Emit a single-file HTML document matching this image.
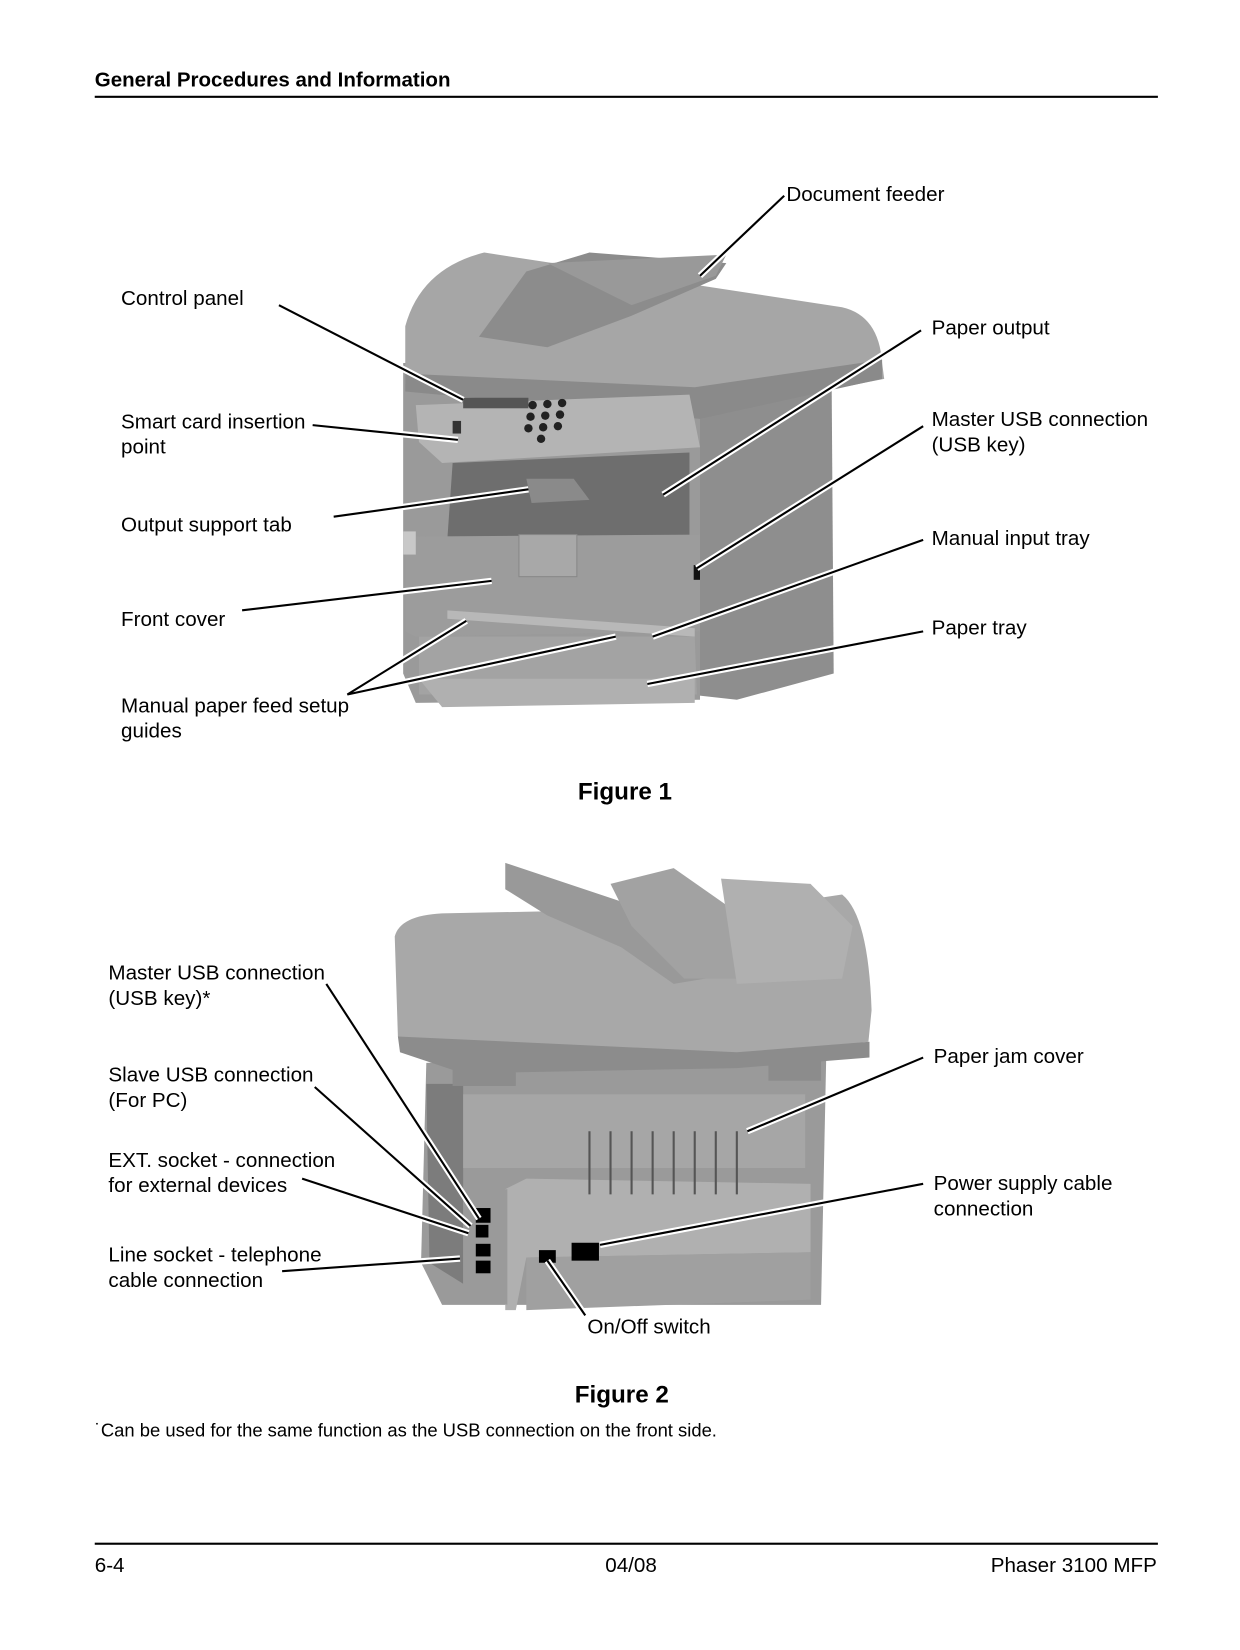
<!DOCTYPE html>
<html><head><meta charset="utf-8"><style>
html,body{margin:0;padding:0;background:#fff;width:1240px;height:1650px;overflow:hidden}
svg{display:block}
text{font-family:"Liberation Sans",Arial,sans-serif;fill:#000}
.l{font-size:19.6px}
.ln{stroke:#000;stroke-width:2;fill:none}
.h{stroke:#fff;stroke-width:6;fill:none}
</style></head><body>
<svg width="1240" height="1650" viewBox="0 0 1178 1568" preserveAspectRatio="none" xmlns="http://www.w3.org/2000/svg">
<text x="90" y="82" style="font-size:19.5px;font-weight:bold">General Procedures and Information</text>
<rect x="90" y="91" width="1010" height="2" fill="#000"/>

<g>
<path d="M655,375 L790,355 L792,640 L700,665 L655,660 Z" fill="#8e8e8e"/>
<path d="M383,345 L665,345 L665,665 L395,668 L383,640 Z" fill="#9a9a9a"/>
<path d="M385,310 Q400,255 460,240 L800,292 Q835,300 838,345 L840,360 L665,395 L385,365 Z" fill="#a6a6a6"/>
<path d="M385,355 L660,368 L838,342 L838,360 L665,398 L385,372 Z" fill="#8a8a8a"/>
<path d="M455,320 L500,258 L560,240 L690,250 L680,265 L600,300 L520,330 Z" fill="#8c8c8c"/>
<path d="M520,250 L690,242 L680,262 L600,290 Z" fill="#999"/>
<path d="M395,385 L655,375 L665,425 L420,440 L398,420 Z" fill="#b4b4b4"/>
<rect x="440" y="378" width="62" height="10" fill="#555"/>
<g fill="#222">
<circle cx="506" cy="385" r="4"/><circle cx="520" cy="384" r="4"/><circle cx="534" cy="383" r="4"/>
<circle cx="504" cy="396" r="4"/><circle cx="518" cy="395" r="4"/><circle cx="532" cy="394" r="4"/>
<circle cx="502" cy="407" r="4"/><circle cx="516" cy="406" r="4"/><circle cx="530" cy="405" r="4"/>
<circle cx="514" cy="417" r="4"/></g>
<rect x="430" y="400" width="8" height="12" fill="#333"/>
<path d="M430,440 L655,430 L655,510 L425,512 Z" fill="#6e6e6e"/>
<path d="M500,455 L545,455 L560,475 L505,478 Z" fill="#8a8a8a"/>
<path d="M385,510 L665,508 L665,600 L395,605 L385,600 Z" fill="#9c9c9c"/>
<rect x="493" y="508" width="55" height="40" fill="#a8a8a8" stroke="#888"/>
<rect x="383" y="505" width="12" height="22" fill="#c8c8c8"/>
<rect x="659" y="537" width="6" height="14" fill="#111"/>
<path d="M425,580 L660,597 L660,605 L425,588 Z" fill="#b8b8b8"/>
<path d="M398,605 L660,605 L662,660 L398,660 Z" fill="#a3a3a3"/>
<path d="M398,645 L660,645 L660,668 L420,672 Z" fill="#b0b0b0"/>
</g>

<g>
<g class="h"><path d="M665,262 L745,186"/><path d="M440,380 L265,290"/><path d="M435,418 L297,404"/><path d="M502,465 L317,491"/><path d="M467,552 L230,580"/><path d="M443,590 L330,660 L585,605"/><path d="M630,470 L875,314"/><path d="M662,540 L877,405"/><path d="M620,605 L877,513"/><path d="M615,650 L877,600"/></g>
<g class="ln"><path d="M665,262 L745,186"/><path d="M440,380 L265,290"/><path d="M435,418 L297,404"/><path d="M502,465 L317,491"/><path d="M467,552 L230,580"/><path d="M443,590 L330,660 L585,605"/><path d="M630,470 L875,314"/><path d="M662,540 L877,405"/><path d="M620,605 L877,513"/><path d="M615,650 L877,600"/></g>
</g>
<text class="l" x="747" y="191">Document feeder</text>
<text class="l" x="115" y="290">Control panel</text>
<text class="l" x="885" y="318">Paper output</text>
<text class="l" x="115" y="407">Smart card insertion</text>
<text class="l" x="115" y="431">point</text>
<text class="l" x="885" y="405">Master USB connection</text>
<text class="l" x="885" y="429">(USB key)</text>
<text class="l" x="115" y="505">Output support tab</text>
<text class="l" x="885" y="518">Manual input tray</text>
<text class="l" x="115" y="595">Front cover</text>
<text class="l" x="885" y="603">Paper tray</text>
<text class="l" x="115" y="677">Manual paper feed setup</text>
<text class="l" x="115" y="701">guides</text>
<text x="549" y="760" style="font-size:23px;font-weight:bold">Figure 1</text>

<g>
<path d="M405,1010 L785,1000 L780,1240 L420,1240 L400,1200 Z" fill="#9a9a9a"/>
<path d="M405,1030 L440,1030 L440,1220 L408,1200 Z" fill="#7c7c7c"/>
<path d="M440,1040 L765,1040 L765,1110 L440,1110 Z" fill="#a6a6a6"/>
<path d="M375,890 Q380,870 420,868 L720,862 L800,850 Q825,870 828,960 L825,990 L700,1005 L440,1010 Q390,1005 378,985 Z" fill="#a8a8a8"/>
<path d="M378,985 L700,1000 L826,990 L826,1005 L700,1015 L440,1020 L380,1000 Z" fill="#8c8c8c"/>
<path d="M480,820 L600,860 L655,900 L700,925 L640,935 L590,900 L520,870 L480,845 Z" fill="#999"/>
<path d="M580,840 L640,825 L690,860 L700,930 L650,930 L600,880 Z" fill="#a2a2a2"/>
<path d="M685,835 L770,840 L810,880 L800,930 L700,935 Z" fill="#b0b0b0"/>
<rect x="430" y="1010" width="60" height="22" fill="#8c8c8c"/>
<rect x="730" y="1005" width="50" height="22" fill="#8c8c8c"/>
<path d="M480,1130 L500,1120 L770,1125 L770,1190 L500,1195 L490,1245 L480,1245 Z" fill="#b0b0b0"/>
<path d="M500,1195 L770,1190 L770,1235 L500,1245 Z" fill="#a0a0a0"/>
<path d="M440,1135 L482,1130 L482,1240 L440,1225 Z" fill="#9a9a9a"/>
<rect x="452" y="1148" width="14" height="14" fill="#000"/>
<rect x="452" y="1164" width="12" height="12" fill="#000"/>
<rect x="452" y="1182" width="14" height="12" fill="#000"/>
<rect x="452" y="1198" width="14" height="12" fill="#000"/>
<rect x="512" y="1188" width="16" height="12" fill="#000"/>
<rect x="543" y="1181" width="26" height="17" fill="#000"/>
<g stroke="#555" stroke-width="2"><path d="M560,1075 v60M580,1075 v60M600,1075 v60M620,1075 v60M640,1075 v60M660,1075 v60M680,1075 v60M700,1075 v60"/></g>
</g>
<g>
<g class="h"><path d="M455,1158 L310,935"/><path d="M447,1165 L299,1033"/><path d="M445,1172 L287,1120"/><path d="M437,1196 L268,1208"/><path d="M710,1075 L877,1005"/><path d="M570,1183 L877,1125"/><path d="M520,1198 L556,1250"/></g>
<g class="ln"><path d="M455,1158 L310,935"/><path d="M447,1165 L299,1033"/><path d="M445,1172 L287,1120"/><path d="M437,1196 L268,1208"/><path d="M710,1075 L877,1005"/><path d="M570,1183 L877,1125"/><path d="M520,1198 L556,1250"/></g>
</g>
<text class="l" x="103" y="931">Master USB connection</text>
<text class="l" x="103" y="955">(USB key)*</text>
<text class="l" x="887" y="1010">Paper jam cover</text>
<text class="l" x="103" y="1028">Slave USB connection</text>
<text class="l" x="103" y="1052">(For PC)</text>
<text class="l" x="103" y="1109">EXT. socket - connection</text>
<text class="l" x="103" y="1133">for external devices</text>
<text class="l" x="887" y="1131">Power supply cable</text>
<text class="l" x="887" y="1155">connection</text>
<text class="l" x="103" y="1199">Line socket - telephone</text>
<text class="l" x="103" y="1223">cable connection</text>
<text class="l" x="558" y="1267">On/Off switch</text>
<text x="546" y="1333" style="font-size:23px;font-weight:bold">Figure 2</text>
<text x="90" y="1365" style="font-size:17.5px">˙Can be used for the same function as the USB connection on the front side.</text>

<rect x="90" y="1466" width="1010" height="2" fill="#000"/>
<text x="90" y="1494" style="font-size:19.6px">6-4</text>
<text x="575" y="1494" style="font-size:19.6px">04/08</text>
<text x="1099" y="1494" style="font-size:19.6px" text-anchor="end">Phaser 3100 MFP</text>
</svg>
</body></html>
